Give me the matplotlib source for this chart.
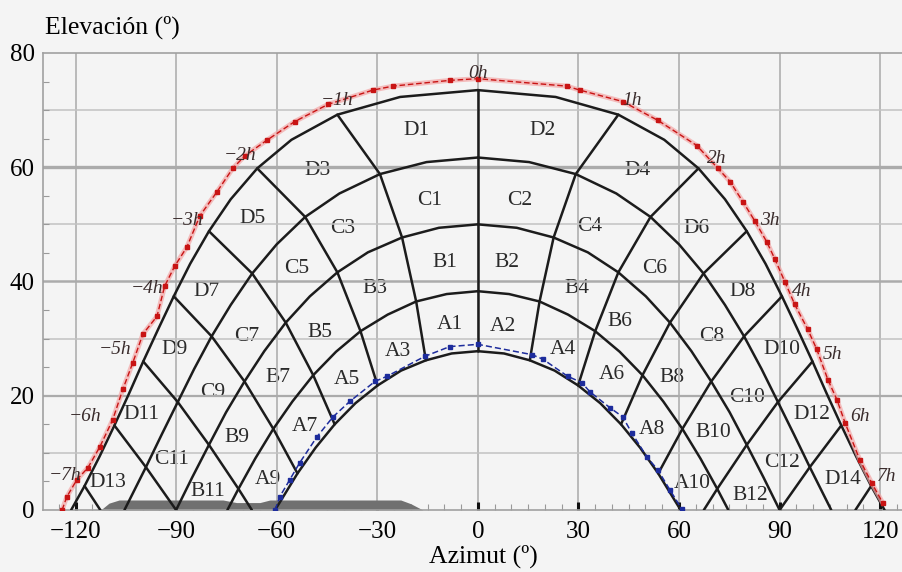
import numpy as np
import matplotlib
matplotlib.use("Agg")
import matplotlib.pyplot as plt
from matplotlib.ticker import MultipleLocator

plt.rcParams['font.family'] = ['Liberation Serif', 'DejaVu Serif']

# sun-path arcs (afternoon half, azimuth >= 0)
arc_az = [
    [0, 23.2, 41.9, 55.6, 65.8, 73.7, 80.2, 85.8, 90.7, 95.3, 99.8, 104.1, 108.4, 112.8, 117.3, 121.3],
    [0, 15.3, 29.2, 41.3, 51.5, 60.0, 67.3, 73.7, 79.4, 84.6, 89.5, 94.3, 99.0, 105.4],
    [0, 11.6, 22.6, 32.8, 41.9, 50.1, 57.3, 63.7, 69.6, 75.1, 80.2, 85.2, 90.0],
    [0, 9.3, 18.4, 26.9, 35.0, 42.3, 49.1, 55.3, 61.0, 66.4, 71.4, 74.7],
    [0, 7.8, 15.5, 22.9, 29.9, 36.5, 42.7, 48.4, 53.8, 58.8, 60.5],
]
arc_el = [
    [73.5, 72.3, 69.2, 64.8, 59.8, 54.4, 48.8, 43.1, 37.4, 31.7, 26.0, 20.3, 14.8, 9.4, 4.2, 0],
    [61.7, 60.9, 58.8, 55.4, 51.3, 46.5, 41.4, 35.9, 30.4, 24.7, 18.9, 13.2, 7.5, 0],
    [50.0, 49.4, 47.7, 45.1, 41.6, 37.4, 32.8, 27.8, 22.5, 17.1, 11.4, 5.7, 0],
    [38.3, 37.8, 36.5, 34.2, 31.3, 27.7, 23.6, 19.0, 14.2, 9.0, 3.7, 0],
    [27.8, 27.4, 26.2, 24.4, 21.8, 18.7, 15.0, 10.9, 6.4, 1.6, 0],
]

# hour lines 1h..7h (afternoon side)
hour_az = [
    [41.9, 29.2, 22.6, 18.4, 15.5],
    [65.8, 51.5, 41.9, 35.0, 29.9],
    [80.2, 67.3, 57.3, 49.1, 42.7],
    [90.7, 79.4, 69.6, 61.0, 53.8],
    [99.8, 89.5, 80.2, 71.4, 67.4],
    [108.4, 99.0, 90.0],
    [117.3, 112.6],
]
hour_el = [
    [69.2, 58.8, 47.7, 36.5, 26.2],
    [59.8, 51.3, 41.6, 31.3, 21.8],
    [48.8, 41.4, 32.8, 23.6, 15.0],
    [37.4, 30.4, 22.5, 14.2, 6.4],
    [26.0, 18.9, 11.4, 3.7, 0],
    [14.8, 7.5, 0],
    [4.2, 0],
]
noon_el = [73.5, 27.8]

# red path with square markers
red_az = [-124.0, -122.6, -119.6, -116.3, -112.7, -108.9, -105.9, -102.9, -99.9, -95.7,
          -93.4, -90.4, -86.8, -82.9, -77.8, -73.1, -69.5, -63.0, -54.6, -44.7, -31.3,
          -25.3, -8.4, 0.0, 26.5, 30.4, 43.2, 53.7, 65.3, 71.6, 75.2, 79.0, 82.6, 86.2,
          88.6, 91.6, 94.5, 98.4, 101.1, 104.4, 107.1, 109.5, 113.9, 117.5, 120.8]
red_el = [0.0, 2.3, 5.3, 7.4, 11.1, 15.8, 21.1, 25.8, 30.8, 33.9,
          39.2, 42.7, 46.0, 51.5, 55.7, 59.8, 62.0, 64.7, 68.0, 71.0, 73.5,
          74.2, 75.2, 75.5, 74.2, 73.5, 71.5, 68.2, 63.8, 59.8, 57.5, 54.0, 50.6, 46.9,
          43.9, 39.9, 36.0, 31.6, 28.1, 22.8, 19.3, 15.3, 8.8, 4.7, 1.2]

# blue path
blue_az = [-60.5, -59.1, -56.1, -53.1, -48.0, -43.2, -38.2, -30.7, -27.1, -15.8, -8.4,
           0.0, 16.1, 19.4, 26.8, 31.0, 33.4, 39.4, 43.2, 45.9, 50.4, 53.7, 57.3, 60.8]
blue_el = [0.0, 2.3, 5.3, 8.3, 12.8, 16.3, 19.0, 22.5, 23.4, 26.9, 28.6,
           29.0, 27.2, 26.4, 23.4, 22.3, 20.7, 17.9, 16.3, 13.5, 9.3, 7.0, 3.5, 0.2]

# horizon obstacle profile
obst_az = [-112.5, -110, -107, -76, -72, -65, -62, -23, -20, -16.4]
obst_el = [0.0, 1.2, 1.75, 1.75, 1.3, 1.3, 1.75, 1.75, 1.1, 0.0]

region_names = ['D1', 'D2', 'D3', 'D4', 'D5', 'D6', 'C1', 'C2', 'C3', 'C4', 'C5', 'C6',
                'B1', 'B2', 'B3', 'B4', 'D7', 'D8', 'D9', 'C7', 'B5', 'A1', 'A2', 'A3',
                'A4', 'B6', 'C8', 'D10', 'B7', 'A5', 'C9', 'A6', 'B8', 'C10', 'D11',
                'D12', 'A7', 'B9', 'A8', 'B10', 'C11', 'C12', 'D13', 'D14', 'A9', 'A10',
                'B11', 'B12']
region_az = [-18.2, 19.4, -47.7, 47.7, -67.1, 65.3, -14.3, 12.5, -40.3, 33.4, -54.0, 52.8,
             -9.8, 8.6, -30.7, 29.5, -80.8, 79.0, -90.4, -68.9, -47.1, -8.4, 7.5, -23.9,
             25.4, 42.3, 69.8, 90.7, -59.6, -39.1, -79.0, 40.0, 57.9, 80.2, -100.2,
             99.6, -51.6, -71.9, 51.9, 70.1, -91.3, 90.7, -110.3, 108.9, -62.6, 64.1,
             -80.5, 81.1]
region_el = [66.4, 66.4, 59.4, 59.4, 51.0, 49.2, 54.1, 54.1, 49.2, 49.7, 42.2, 42.2,
             43.4, 43.4, 38.7, 38.7, 38.3, 38.3, 28.1, 30.4, 31.1, 32.5, 32.2, 27.8,
             28.1, 33.0, 30.4, 28.1, 23.2, 22.8, 20.6, 23.7, 23.2, 19.7, 16.7,
             16.7, 14.6, 12.7, 14.1, 13.5, 8.8, 8.3, 4.9, 5.3, 5.3, 4.6,
             3.2, 2.6]

hour_names = ['0h', '\u22121h', '\u22122h', '\u22123h', '\u22124h', '\u22125h', '\u22126h', '\u22127h',
              '1h', '2h', '3h', '4h', '5h', '6h', '7h']
hour_lab_az = [0, -42.1, -71.0, -86.8, -98.7, -108.3, -117.2, -123.2,
               45.9, 71.3, 87.1, 96.6, 105.9, 113.9, 121.9]
hour_lab_el = [76.4, 71.7, 62.0, 50.6, 38.7, 28.1, 16.3, 6.1,
               71.7, 61.5, 50.6, 38.3, 27.2, 16.3, 5.8]

bg = '#f4f4f4'
fig = plt.figure(figsize=(9.03, 5.72), dpi=100, facecolor=bg)
ax = fig.add_axes([0.0476, 0.1084, 0.9524, 0.799], facecolor=bg)

ax.set_xlim(-129.7, 126.8)
ax.set_ylim(0, 80)

# grid
for x in range(-120, 121, 30):
    ax.axvline(x, color='#b4b4b4', lw=1.3, zorder=1)
for y in [10, 30, 50, 70]:
    ax.axhline(y, color='#c2c2c2', lw=1.1, zorder=1)
for y, w in [(20, 1.6), (40, 1.8), (60, 2.4)]:
    ax.axhline(y, color='#ababab', lw=w, zorder=1)

# obstacle band
ax.fill_between(obst_az, 0, obst_el, color='#707070', lw=0, zorder=2)

line_kw = dict(color='#1c1c1c', lw=1.8, zorder=3, solid_capstyle='round')
for az, el in zip(arc_az, arc_el):
    a = np.array(az)
    ax.plot(a, el, **line_kw)
    ax.plot(-a, el, **line_kw)
for az, el in zip(hour_az, hour_el):
    a = np.array(az)
    ax.plot(a, el, **line_kw)
    ax.plot(-a, el, **line_kw)
ax.plot([0, 0], noon_el, **line_kw)

# red and blue paths
ax.plot(red_az, red_el, color='#f3a5a5', lw=3.5, alpha=0.7, zorder=4)
ax.plot(red_az, red_el, color='#c81414', lw=1.0, ls=(0, (4, 2)), marker='s', ms=3.2, zorder=5)
ax.plot(blue_az, blue_el, color='#1d2c9c', lw=1.1, ls=(0, (4, 2)), marker='s', ms=2.2, zorder=5)

# labels
for name, x, y in zip(region_names, region_az, region_el):
    ax.text(x, y, name, ha='center', va='center', fontsize=15.5, color='#2a2a2a', zorder=0.5)
for name, x, y in zip(hour_names, hour_lab_az, hour_lab_el):
    ax.text(x, y, name, ha='center', va='center', fontsize=14, style='italic',
            color='#3a2c2c', zorder=6)

# axes styling
for s in ['left', 'top', 'bottom']:
    ax.spines[s].set_color('#a0a0a0')
    ax.spines[s].set_linewidth(1.2)
ax.spines['right'].set_visible(False)

ax.set_xticks(range(-120, 121, 30))
ax.set_yticks(range(0, 81, 20))
ax.xaxis.set_minor_locator(MultipleLocator(5))
ax.yaxis.set_minor_locator(MultipleLocator(5))
ax.tick_params(axis='x', which='major', direction='in', length=6, width=2.2, color='#111111',
               labelsize=18, pad=8)
ax.tick_params(axis='y', which='major', direction='in', length=0, labelsize=18, pad=6)
ax.tick_params(which='minor', direction='in', length=4, width=0.8, color='#999999')

fig.text(45 / 903, 1 - 27 / 572, 'Elevación (º)', ha='left', va='center', fontsize=18.5)
fig.text(483 / 903, 1 - 556 / 572, 'Azimut (º)', ha='center', va='center', fontsize=18.5)

fig.savefig('out.png', dpi=100, facecolor=bg)
